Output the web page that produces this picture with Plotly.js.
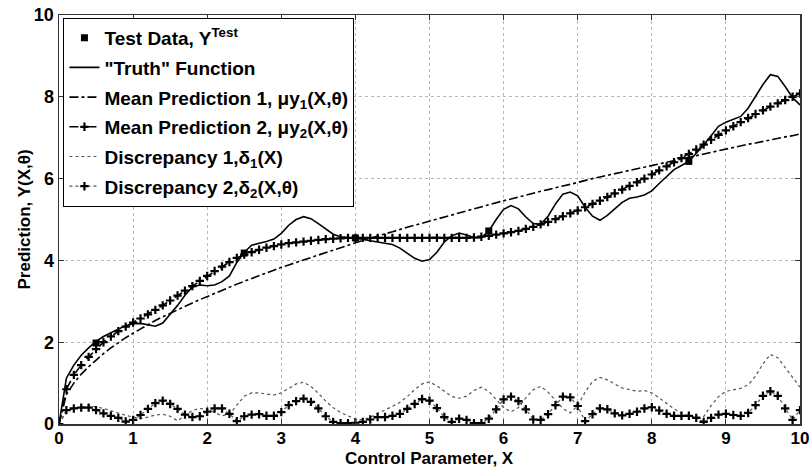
<!DOCTYPE html>
<html>
<head>
<meta charset="utf-8">
<script src="https://cdn.plot.ly/plotly-3.0.1.min.js"></script>
<style>html,body{margin:0;padding:0;background:#fff;}#chart{width:809px;height:467px;}</style>
</head>
<body>
<div id="chart"></div>
<script>
// Common control-parameter grid, X = 0 ... 10 in steps of 0.1
const xGrid = [0,0.1,0.2,0.3,0.4,0.5,0.6,0.7,0.8,0.9,
  1,1.1,1.2,1.3,1.4,1.5,1.6,1.7,1.8,1.9,
  2,2.1,2.2,2.3,2.4,2.5,2.6,2.7,2.8,2.9,
  3,3.1,3.2,3.3,3.4,3.5,3.6,3.7,3.8,3.9,
  4,4.1,4.2,4.3,4.4,4.5,4.6,4.7,4.8,4.9,
  5,5.1,5.2,5.3,5.4,5.5,5.6,5.7,5.8,5.9,
  6,6.1,6.2,6.3,6.4,6.5,6.6,6.7,6.8,6.9,
  7,7.1,7.2,7.3,7.4,7.5,7.6,7.7,7.8,7.9,
  8,8.1,8.2,8.3,8.4,8.5,8.6,8.7,8.8,8.9,
  9,9.1,9.2,9.3,9.4,9.5,9.6,9.7,9.8,9.9,10];

// "Truth" function
const truthY = [0,1.12,1.44,1.68,1.86,2.02,2.14,2.24,2.32,2.4,
  2.45,2.46,2.42,2.39,2.47,2.68,2.9,3.15,3.35,3.4,
  3.38,3.4,3.48,3.62,3.95,4.2,4.37,4.42,4.46,4.52,
  4.66,4.86,5.0,5.07,5.02,4.9,4.76,4.64,4.58,4.56,
  4.55,4.52,4.48,4.45,4.42,4.39,4.3,4.18,4.05,3.98,
  4.02,4.2,4.45,4.6,4.67,4.62,4.56,4.55,4.72,5.0,
  5.25,5.34,5.26,5.06,4.9,4.88,5.08,5.38,5.62,5.67,
  5.58,5.3,5.08,4.98,5.1,5.26,5.42,5.52,5.55,5.6,
  5.7,5.88,6.06,6.22,6.32,6.42,6.62,6.82,7.05,7.28,
  7.38,7.45,7.52,7.72,8.02,8.3,8.54,8.5,8.25,7.98,7.8];

// Mean prediction 1
const mean1Y = [0,0.72,1.0,1.22,1.4,1.57,1.72,1.86,1.99,2.11,
  2.22,2.33,2.43,2.53,2.62,2.71,2.8,2.88,2.96,3.04,
  3.12,3.2,3.28,3.35,3.42,3.49,3.56,3.63,3.7,3.76,
  3.83,3.89,3.95,4.02,4.08,4.14,4.2,4.26,4.32,4.37,
  4.43,4.49,4.54,4.6,4.65,4.7,4.76,4.81,4.86,4.91,
  4.97,5.02,5.07,5.12,5.17,5.22,5.27,5.31,5.36,5.41,
  5.46,5.5,5.55,5.6,5.64,5.69,5.73,5.78,5.82,5.86,
  5.91,5.95,6.0,6.04,6.08,6.12,6.16,6.21,6.25,6.29,
  6.33,6.37,6.41,6.45,6.49,6.53,6.57,6.61,6.65,6.68,
  6.72,6.76,6.8,6.84,6.87,6.91,6.95,6.98,7.02,7.05,7.09];

// Mean prediction 2
const mean2Y = [0,0.85,1.2,1.44,1.64,1.83,2.0,2.14,2.27,2.38,
  2.48,2.58,2.68,2.79,2.9,3.02,3.14,3.26,3.37,3.5,
  3.62,3.74,3.85,3.96,4.06,4.14,4.2,4.26,4.31,4.35,
  4.39,4.42,4.44,4.46,4.48,4.5,4.52,4.53,4.54,4.55,
  4.55,4.55,4.55,4.55,4.55,4.55,4.55,4.55,4.55,4.55,
  4.55,4.55,4.55,4.55,4.55,4.55,4.56,4.58,4.6,4.63,
  4.66,4.69,4.72,4.77,4.82,4.88,4.94,5.01,5.08,5.15,
  5.22,5.3,5.38,5.46,5.55,5.64,5.73,5.82,5.91,6.0,
  6.1,6.2,6.3,6.4,6.5,6.6,6.71,6.83,6.95,7.07,
  7.18,7.28,7.38,7.48,7.58,7.67,7.76,7.84,7.92,8.0,8.08];

// Discrepancy 1
const disc1Y = [0,0.3,0.38,0.42,0.44,0.42,0.38,0.33,0.27,0.21,
  0.17,0.13,0.17,0.22,0.24,0.19,0.08,0.2,0.33,0.38,
  0.36,0.28,0.2,0.24,0.45,0.68,0.76,0.76,0.73,0.71,
  0.76,0.88,0.98,1.02,0.92,0.75,0.56,0.4,0.28,0.2,
  0.12,0.1,0.16,0.26,0.34,0.43,0.53,0.67,0.84,0.98,
  1.03,0.93,0.8,0.67,0.63,0.68,0.82,0.9,0.8,0.6,
  0.4,0.3,0.4,0.64,0.84,0.92,0.78,0.58,0.38,0.27,
  0.45,0.78,1.04,1.14,1.08,0.98,0.88,0.84,0.8,0.82,
  0.76,0.64,0.5,0.37,0.27,0.2,0.16,0.18,0.45,0.67,
  0.8,0.84,0.87,0.96,1.17,1.47,1.7,1.62,1.38,1.12,0.9];

// Discrepancy 2
const disc2Y = [0,0.34,0.38,0.4,0.4,0.34,0.26,0.2,0.15,0.06,
  0.1,0.22,0.37,0.51,0.57,0.49,0.37,0.23,0.17,0.19,
  0.3,0.38,0.38,0.25,0.07,0.19,0.23,0.24,0.2,0.2,
  0.29,0.46,0.56,0.62,0.54,0.38,0.19,0.05,0.02,0.02,
  0.03,0.05,0.11,0.17,0.17,0.2,0.25,0.37,0.49,0.61,
  0.57,0.39,0.17,0.05,0.13,0.1,0.02,0.02,0.13,0.36,
  0.6,0.67,0.56,0.36,0.11,0.1,0.24,0.46,0.67,0.65,
  0.44,0.07,0.24,0.38,0.36,0.26,0.21,0.25,0.3,0.38,
  0.41,0.33,0.25,0.2,0.2,0.2,0.15,0.05,0.15,0.23,
  0.25,0.22,0.2,0.27,0.46,0.69,0.8,0.69,0.38,0.1,0.34];

// Test data
const testX = [0.5, 2.5, 4.0, 5.8, 8.5];
const testY = [1.98, 4.18, 4.55, 4.72, 6.42];

const plus = {symbol: 'cross-thin', size: 6, color: '#000', line: {color: '#000', width: 2.2}};

const traces = [
  {x: testX, y: testY, mode: 'markers', name: 'Test Data, Y<sup>Test</sup>', legendgroup: 'g1',
   marker: {symbol: 'square', size: 7, color: '#000'}},
  {x: xGrid, y: truthY, mode: 'lines', name: '"Truth" Function', legendgroup: 'g2',
   line: {color: '#000', width: 1.6}},
  {x: xGrid, y: mean1Y, mode: 'lines', name: 'Mean Prediction 1, μy<sub>1</sub>(X,θ)', legendgroup: 'g3',
   line: {color: '#000', width: 1.6, dash: 'dashdot'}},
  {x: xGrid, y: mean2Y, mode: 'lines+markers', name: 'Mean Prediction 2, μy<sub>2</sub>(X,θ)', legendgroup: 'g4',
   line: {color: '#000', width: 1.6, dash: 'dash'}, marker: plus},
  {x: xGrid, y: disc1Y, mode: 'lines', name: 'Discrepancy 1,δ<sub>1</sub>(X)', legendgroup: 'g5',
   line: {color: '#555', width: 1.2, dash: 'dot'}},
  {x: xGrid, y: disc2Y, mode: 'lines+markers', name: 'Discrepancy 2,δ<sub>2</sub>(X,θ)', legendgroup: 'g6',
   line: {color: '#555', width: 1.2, dash: 'dot'}, marker: plus}
];

const tickVals = [0,1,2,3,4,5,6,7,8,9,10];
const yTickVals = [0,2,4,6,8,10];

const fam = 'Liberation Sans, Arial, sans-serif';
const tickFont = {family: fam, size: 18, color: '#000', weight: 'bold'};
const xTickFont = {family: fam, size: 17, color: '#000', weight: 'bold'};
const titleFont = {family: fam, size: 17, color: '#000', weight: 'bold'};
const legendFont = {family: fam, size: 19, color: '#000', weight: 'bold'};

const axisCommon = {
  showline: true, linecolor: '#333', linewidth: 1.5, mirror: 'ticks',
  ticks: 'inside', ticklen: 5, tickcolor: '#333', tickwidth: 1,
  showgrid: true, gridcolor: '#b8b8b8', griddash: 'dot', gridwidth: 1,
  zeroline: false, tickfont: tickFont, ticklabeloverflow: 'allow'
};

const layout = {
  width: 809, height: 467,
  margin: {l: 59, r: 9, t: 15, b: 43},
  paper_bgcolor: '#fff', plot_bgcolor: '#fff',
  font: titleFont,
  showlegend: true,
  xaxis: Object.assign({}, axisCommon, {
    range: [0, 10], tickvals: tickVals, ticktext: tickVals.map(String),
    tickfont: xTickFont, ticklabelstandoff: -2
  }),
  yaxis: Object.assign({}, axisCommon, {
    range: [0, 10], tickvals: yTickVals, ticktext: yTickVals.map(String)
  }),
  annotations: [
    {text: 'Control Parameter, X', xref: 'paper', yref: 'paper', x: 0.5, y: 0,
     xanchor: 'center', yanchor: 'middle', yshift: -34, showarrow: false, font: titleFont},
    {text: 'Prediction, Y(X,θ)', xref: 'paper', yref: 'paper', x: 0, y: 0.5,
     xanchor: 'center', yanchor: 'middle', xshift: -35, textangle: -90, showarrow: false, font: titleFont}
  ],
  legend: {
    x: 0.006, y: 0.993, xanchor: 'left', yanchor: 'top',
    bgcolor: '#fff', bordercolor: '#000', borderwidth: 1,
    font: legendFont, itemwidth: 30, tracegroupgap: 2
  }
};

Plotly.newPlot('chart', traces, layout, {displayModeBar: false, staticPlot: true});
</script>
</body>
</html>
